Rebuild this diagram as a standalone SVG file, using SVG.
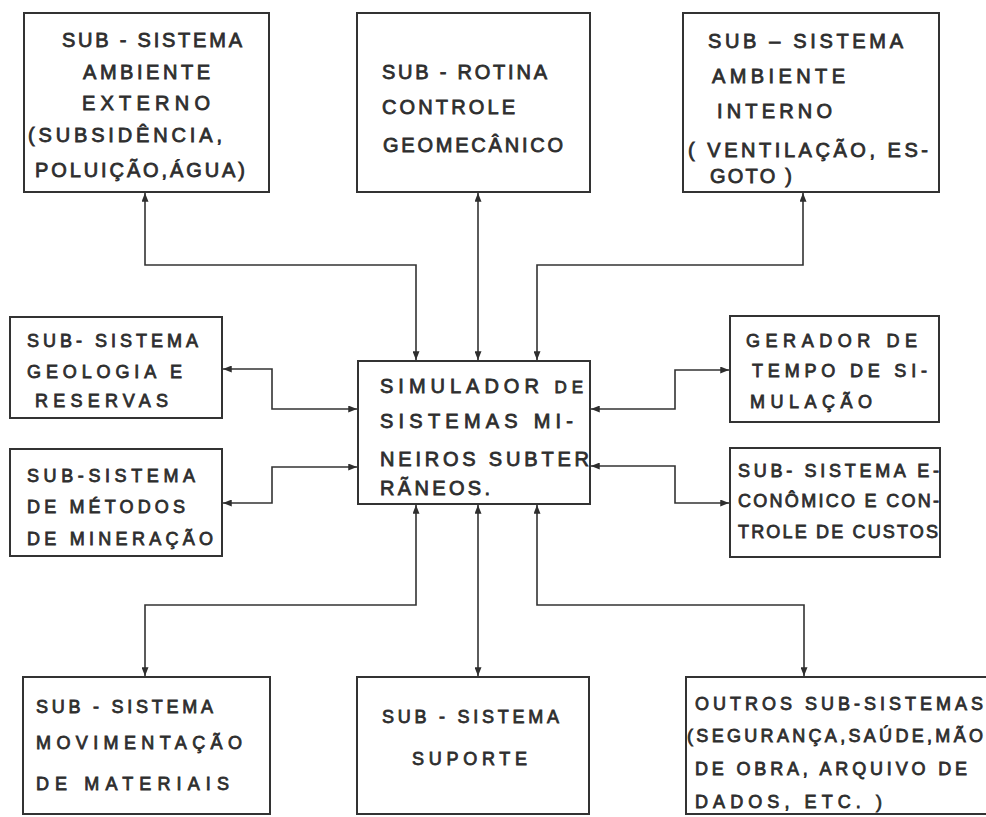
<svg xmlns="http://www.w3.org/2000/svg" width="986" height="817" viewBox="0 0 986 817">
  <defs>
    <marker id="arrow" viewBox="0 0 10 8" refX="10" refY="4" markerWidth="9" markerHeight="7" markerUnits="userSpaceOnUse" orient="auto-start-reverse">
      <path d="M0,0 L10,4 L0,8 Z" fill="#2e2e2e"/>
    </marker>
    <style>
      .box { fill: #ffffff; stroke: #333333; stroke-width: 2; }
      .lbl { font-family: "Liberation Sans", Arial, sans-serif; font-size: 20px; fill: #2e2e2e; stroke: #2e2e2e; stroke-width: 0.8; }
      .sm { font-size: 18px; }
      .link { fill: none; stroke: #333333; stroke-width: 1.6; marker-start: url(#arrow); marker-end: url(#arrow); }
    </style>
  </defs>
  <rect width="986" height="817" fill="#ffffff"/>

  <!-- connectors between the simulator and each sub-system -->
  <g id="connectors">
    <path class="link" d="M145,193 V265 H416 V360"/>
    <path class="link" d="M478,193 V360"/>
    <path class="link" d="M803,193 V265 H537 V360"/>
    <path class="link" d="M223,369 H272 V409 H357"/>
    <path class="link" d="M223,503 H272 V467 H357"/>
    <path class="link" d="M729,370 H675 V409 H591"/>
    <path class="link" d="M729,503 H675 V466 H591"/>
    <path class="link" d="M416,505 V605 H145 V676"/>
    <path class="link" d="M478,505 V676"/>
    <path class="link" d="M537,505 V605 H804 V676"/>
  </g>

  <g id="ambiente-externo">
    <rect class="box" x="24" y="13" width="245" height="179"/>
    <text class="lbl" x="62" y="47" textLength="180" lengthAdjust="spacing">SUB - SISTEMA</text>
    <text class="lbl" x="83" y="79" textLength="127" lengthAdjust="spacing">AMBIENTE</text>
    <text class="lbl" x="82" y="110" textLength="128" lengthAdjust="spacing">EXTERNO</text>
    <text class="lbl" x="28" y="142" textLength="194" lengthAdjust="spacing">(SUBSIDÊNCIA,</text>
    <text class="lbl" x="35" y="177" textLength="210" lengthAdjust="spacing">POLUIÇÃO,ÁGUA)</text>
  </g>

  <g id="controle-geomecanico">
    <rect class="box" x="357" y="13" width="233" height="179"/>
    <text class="lbl" x="382" y="79" textLength="165" lengthAdjust="spacing">SUB - ROTINA</text>
    <text class="lbl" x="382" y="114" textLength="133" lengthAdjust="spacing">CONTROLE</text>
    <text class="lbl" x="383" y="152" textLength="180" lengthAdjust="spacing">GEOMECÂNICO</text>
  </g>

  <g id="ambiente-interno">
    <rect class="box" x="683" y="13" width="256" height="179"/>
    <text class="lbl" x="708" y="48" textLength="195" lengthAdjust="spacing">SUB – SISTEMA</text>
    <text class="lbl" x="712" y="83" textLength="133" lengthAdjust="spacing">AMBIENTE</text>
    <text class="lbl" x="717" y="118" textLength="115" lengthAdjust="spacing">INTERNO</text>
    <text class="lbl" x="688" y="157" textLength="240" lengthAdjust="spacing">( VENTILAÇÃO, ES-</text>
    <text class="lbl" x="710" y="183" textLength="82" lengthAdjust="spacing">GOTO )</text>
  </g>

  <g id="geologia-reservas">
    <rect class="box" x="10" y="317" width="212" height="101"/>
    <text class="lbl sm" x="27" y="347" textLength="171" lengthAdjust="spacing">SUB- SISTEMA</text>
    <text class="lbl sm" x="27" y="378" textLength="155" lengthAdjust="spacing">GEOLOGIA  E</text>
    <text class="lbl sm" x="35" y="407" textLength="133" lengthAdjust="spacing">RESERVAS</text>
  </g>

  <g id="metodos-mineracao">
    <rect class="box" x="10" y="449" width="212" height="107"/>
    <text class="lbl sm" x="27" y="482" textLength="168" lengthAdjust="spacing">SUB-SISTEMA</text>
    <text class="lbl sm" x="27" y="513" textLength="158" lengthAdjust="spacing">DE  MÉTODOS</text>
    <text class="lbl sm" x="27" y="545" textLength="186" lengthAdjust="spacing">DE  MINERAÇÃO</text>
  </g>

  <g id="simulador">
    <rect class="box" x="358" y="361" width="232" height="143"/>
    <text class="lbl" x="380" y="393" textLength="203" lengthAdjust="spacing">SIMULADOR <tspan font-size="17">DE</tspan></text>
    <text class="lbl" x="380" y="428" textLength="193" lengthAdjust="spacing">SISTEMAS  MI-</text>
    <text class="lbl" x="380" y="466" textLength="209" lengthAdjust="spacing">NEIROS  SUBTER</text>
    <text class="lbl" x="380" y="495" textLength="110" lengthAdjust="spacing">RÃNEOS.</text>
  </g>

  <g id="gerador-tempo">
    <rect class="box" x="730" y="316" width="209" height="106"/>
    <text class="lbl sm" x="746" y="347" textLength="171" lengthAdjust="spacing">GERADOR  DE</text>
    <text class="lbl sm" x="752" y="377" textLength="175" lengthAdjust="spacing">TEMPO DE SI-</text>
    <text class="lbl sm" x="750" y="408" textLength="122" lengthAdjust="spacing">MULAÇÃO</text>
  </g>

  <g id="economico-custos">
    <rect class="box" x="730" y="448" width="210" height="109"/>
    <text class="lbl sm" x="738" y="477" textLength="201" lengthAdjust="spacing">SUB- SISTEMA E-</text>
    <text class="lbl sm" x="738" y="507" textLength="201" lengthAdjust="spacing">CONÔMICO E CON-</text>
    <text class="lbl sm" x="738" y="538" textLength="200" lengthAdjust="spacing">TROLE DE CUSTOS</text>
  </g>

  <g id="movimentacao-materiais">
    <rect class="box" x="23" y="677" width="247" height="137"/>
    <text class="lbl sm" x="36" y="713" textLength="177" lengthAdjust="spacing">SUB - SISTEMA</text>
    <text class="lbl sm" x="36" y="749" textLength="206" lengthAdjust="spacing">MOVIMENTAÇÃO</text>
    <text class="lbl sm" x="36" y="790" textLength="193" lengthAdjust="spacing">DE  MATERIAIS</text>
  </g>

  <g id="suporte">
    <rect class="box" x="357" y="677" width="232" height="137"/>
    <text class="lbl sm" x="382" y="723" textLength="177" lengthAdjust="spacing">SUB - SISTEMA</text>
    <text class="lbl sm" x="412" y="765" textLength="115" lengthAdjust="spacing">SUPORTE</text>
  </g>

  <g id="outros-subsistemas">
    <rect class="box" x="686" y="677" width="310" height="137"/>
    <text class="lbl sm" x="695" y="710" textLength="288" lengthAdjust="spacing">OUTROS  SUB-SISTEMAS</text>
    <text class="lbl sm" x="687" y="742" textLength="296" lengthAdjust="spacing">(SEGURANÇA,SAÚDE,MÃO</text>
    <text class="lbl sm" x="695" y="775" textLength="272" lengthAdjust="spacing">DE OBRA, ARQUIVO DE</text>
    <text class="lbl sm" x="695" y="808" textLength="187" lengthAdjust="spacing">DADOS, ETC. )</text>
  </g>
</svg>
